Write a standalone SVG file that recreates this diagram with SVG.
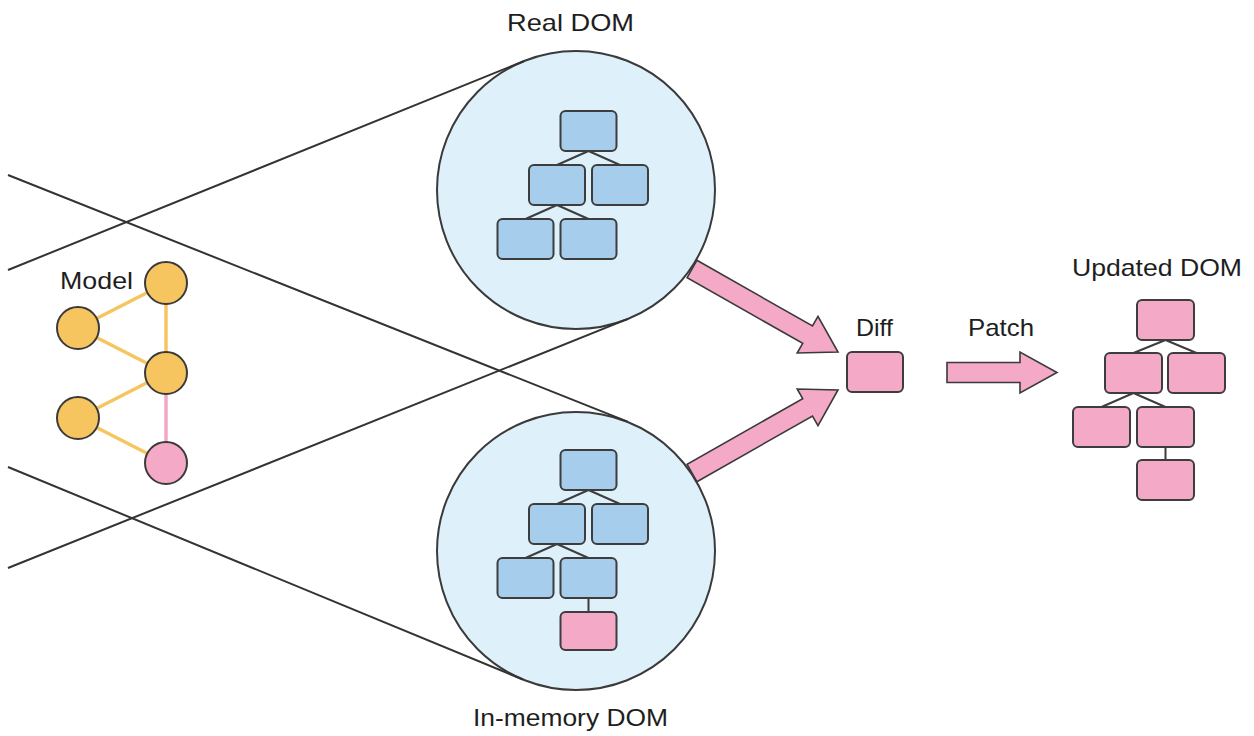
<svg xmlns="http://www.w3.org/2000/svg" width="1254" height="736" viewBox="0 0 1254 736">
  <style>
    .lens { fill: #DEF0FA; stroke: #3a3a3a; stroke-width: 2; }
    .box { stroke: #3d3d3d; stroke-width: 2; }
    .blue { fill: #A6CDEC; }
    .pink { fill: #F4A9C7; }
    .yellow { fill: #F7C55F; }
    .dot { stroke: #3a3a3a; stroke-width: 2; }
    .ray { stroke: #333; stroke-width: 2; fill: none; }
    .edge { stroke: #3d3d3d; stroke-width: 2; fill: none; }
    .link-y { stroke: #F7C55F; stroke-width: 3.5; }
    .link-p { stroke: #F2A6C5; stroke-width: 3.5; }
    .arrow { fill: #F4A9C7; stroke: #3a3a3a; stroke-width: 1.6; stroke-linejoin: miter; }
    .label { font-family: "Liberation Sans", Arial, sans-serif; font-size: 24px; fill: #1e1e1e; }
  </style>

  <!-- magnifier lenses -->
  <g id="real-dom">
    <circle class="lens" cx="576" cy="190" r="139"/>
    <text class="label" x="507" y="31" textLength="127" lengthAdjust="spacingAndGlyphs">Real DOM</text>
  </g>
  <g id="in-memory-dom">
    <circle class="lens" cx="576" cy="551" r="139"/>
    <text class="label" x="473" y="726" textLength="195" lengthAdjust="spacingAndGlyphs">In-memory DOM</text>
  </g>

  <!-- connectors -->
  <g id="connectors">
    <!-- view rays tangent to the lenses -->
    <line class="ray" x1="8" y1="175" x2="627.5" y2="421.6"/>
    <line class="ray" x1="8" y1="270" x2="523.8" y2="61.2"/>
    <line class="ray" x1="8" y1="467" x2="523" y2="679.5"/>
    <line class="ray" x1="8" y1="568" x2="627.9" y2="318.9"/>

    <!-- real DOM tree edges -->
    <path class="edge" d="M588.5 151 L557 165 M588.5 151 L620 165 M557 205 L525.5 219 M557 205 L588.5 219"/>
    <!-- in-memory DOM tree edges -->
    <path class="edge" d="M588.5 490 L557 504 M588.5 490 L620 504 M557 544 L525.5 558 M557 544 L588.5 558 M588.5 598 L588.5 612"/>
    <!-- updated DOM tree edges -->
    <path class="edge" d="M1165.5 340 L1133.5 353 M1165.5 340 L1196.5 353 M1133.5 393 L1101.5 407 M1133.5 393 L1165.5 407 M1165.5 447 L1165.5 460"/>

    <!-- model graph edges -->
    <line class="link-y" x1="166" y1="283" x2="78" y2="328"/>
    <line class="link-y" x1="166" y1="283" x2="166" y2="373"/>
    <line class="link-y" x1="78" y1="328" x2="166" y2="373"/>
    <line class="link-y" x1="166" y1="373" x2="78" y2="418"/>
    <line class="link-y" x1="78" y1="418" x2="166" y2="463"/>
    <line class="link-p" x1="166" y1="373" x2="166" y2="463"/>

    <!-- block arrows -->
    <polygon class="arrow" points="696.9,260.3 812.5,326 818,316.4 838,352 797.2,353 802.7,343.4 687.1,277.7"/>
    <polygon class="arrow" points="696.9,481.7 812.5,416 818,425.6 838,390 797.2,389 802.7,398.6 687.1,464.3"/>
    <polygon class="arrow" points="947,362.5 1020,362.5 1020,352 1057,372.5 1020,393 1020,382.5 947,382.5"/>
  </g>

  <!-- real DOM tree -->
  <g id="real-root"><rect class="box blue" x="560.5" y="111" width="56" height="40" rx="5"/></g>
  <g id="real-a"><rect class="box blue" x="529" y="165" width="56" height="40" rx="5"/></g>
  <g id="real-b"><rect class="box blue" x="592" y="165" width="56" height="40" rx="5"/></g>
  <g id="real-a1"><rect class="box blue" x="497.5" y="219" width="56" height="40" rx="5"/></g>
  <g id="real-a2"><rect class="box blue" x="560.5" y="219" width="56" height="40" rx="5"/></g>

  <!-- in-memory DOM tree -->
  <g id="mem-root"><rect class="box blue" x="560.5" y="450" width="56" height="40" rx="5"/></g>
  <g id="mem-a"><rect class="box blue" x="529" y="504" width="56" height="40" rx="5"/></g>
  <g id="mem-b"><rect class="box blue" x="592" y="504" width="56" height="40" rx="5"/></g>
  <g id="mem-a1"><rect class="box blue" x="497.5" y="558" width="56" height="40" rx="5"/></g>
  <g id="mem-a2"><rect class="box blue" x="560.5" y="558" width="56" height="40" rx="5"/></g>
  <g id="mem-new"><rect class="box pink" x="560.5" y="612" width="56" height="38" rx="5"/></g>

  <!-- model graph -->
  <g id="model">
    <text class="label" x="60" y="289" textLength="73" lengthAdjust="spacingAndGlyphs">Model</text>
  </g>
  <g id="model-1"><circle class="dot yellow" cx="166" cy="283" r="21"/></g>
  <g id="model-2"><circle class="dot yellow" cx="78" cy="328" r="21"/></g>
  <g id="model-3"><circle class="dot yellow" cx="166" cy="373" r="21"/></g>
  <g id="model-4"><circle class="dot yellow" cx="78" cy="418" r="21"/></g>
  <g id="model-5"><circle class="dot pink" cx="166" cy="463" r="21"/></g>

  <!-- diff -->
  <g id="diff">
    <rect class="box pink" x="847" y="352" width="56" height="40" rx="5"/>
    <text class="label" x="856" y="336" textLength="37" lengthAdjust="spacingAndGlyphs">Diff</text>
  </g>
  <g id="patch">
    <text class="label" x="968" y="336" textLength="66" lengthAdjust="spacingAndGlyphs">Patch</text>
  </g>

  <!-- updated DOM tree -->
  <g id="updated-dom">
    <text class="label" x="1072" y="276" textLength="170" lengthAdjust="spacingAndGlyphs">Updated DOM</text>
  </g>
  <g id="upd-root"><rect class="box pink" x="1137" y="300" width="57" height="40" rx="5"/></g>
  <g id="upd-a"><rect class="box pink" x="1105" y="353" width="57" height="40" rx="5"/></g>
  <g id="upd-b"><rect class="box pink" x="1168" y="353" width="57" height="40" rx="5"/></g>
  <g id="upd-a1"><rect class="box pink" x="1073" y="407" width="57" height="40" rx="5"/></g>
  <g id="upd-a2"><rect class="box pink" x="1137" y="407" width="57" height="40" rx="5"/></g>
  <g id="upd-new"><rect class="box pink" x="1137" y="460" width="57" height="40" rx="5"/></g>
</svg>
